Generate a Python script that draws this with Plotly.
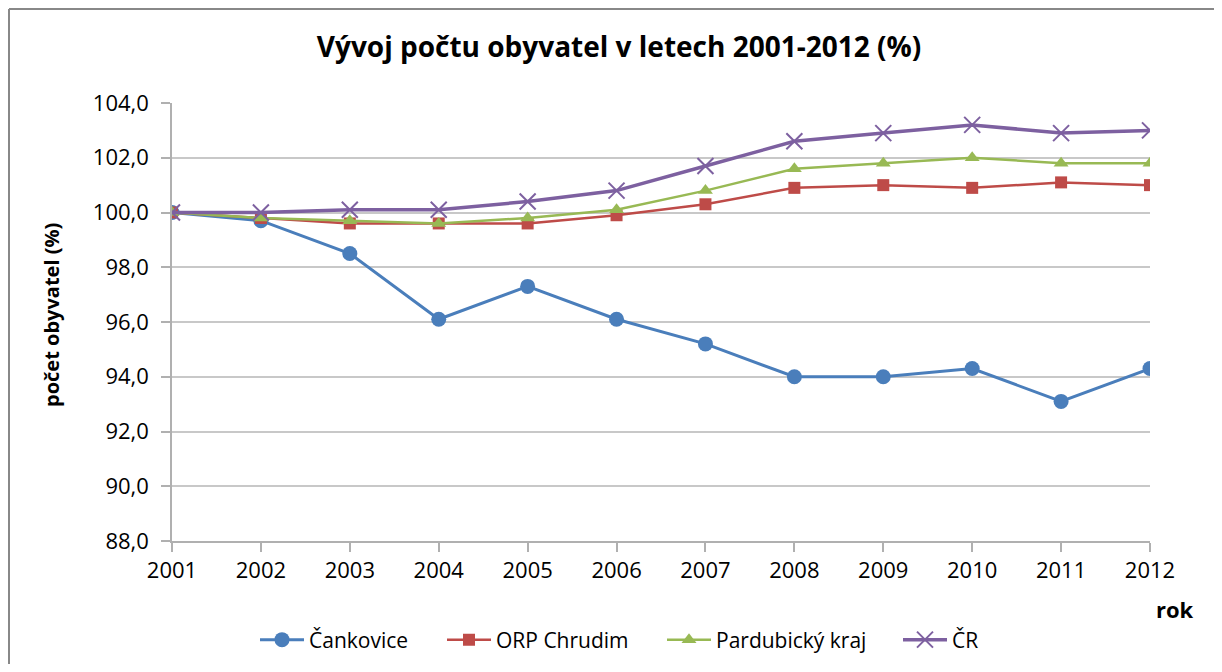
import plotly.graph_objects as go

years = [2001, 2002, 2003, 2004, 2005, 2006, 2007, 2008, 2009, 2010, 2011, 2012]
cankovice = [100.0, 99.7, 98.5, 96.1, 97.3, 96.1, 95.2, 94.0, 94.0, 94.3, 93.1, 94.3]
orp_chrudim = [100.0, 99.8, 99.6, 99.6, 99.6, 99.9, 100.3, 100.9, 101.0, 100.9, 101.1, 101.0]
pardubicky = [100.0, 99.8, 99.7, 99.6, 99.8, 100.1, 100.8, 101.6, 101.8, 102.0, 101.8, 101.8]
cr = [100.0, 100.0, 100.1, 100.1, 100.4, 100.8, 101.7, 102.6, 102.9, 103.2, 102.9, 103.0]

y_ticks = [88, 90, 92, 94, 96, 98, 100, 102, 104]
y_labels = ["88,0", "90,0", "92,0", "94,0", "96,0", "98,0", "100,0", "102,0", "104,0"]

FONT = "Open Sans"
# figure is placed at (8, 8) in the page by the default body margin
W, H = 1206, 656
L, R, T, B = 164, 1142, 95, 533

fig = go.Figure()
fig.add_trace(go.Scatter(x=years, y=cankovice, name="Čankovice", mode="lines+markers",
                         legend="legend",
                         line=dict(color="#4A7EBB", width=3),
                         marker=dict(symbol="circle", size=15, color="#4A7EBB")))
fig.add_trace(go.Scatter(x=years, y=orp_chrudim, name="ORP Chrudim", mode="lines+markers",
                         legend="legend2",
                         line=dict(color="#BE4B48", width=2.5),
                         marker=dict(symbol="square", size=12, color="#BE4B48")))
fig.add_trace(go.Scatter(x=years, y=pardubicky, name="Pardubický kraj", mode="lines+markers",
                         legend="legend3",
                         line=dict(color="#98B954", width=2.5),
                         marker=dict(symbol="triangle-up", size=13, color="#98B954")))
fig.add_trace(go.Scatter(x=years, y=cr, name="ČR", mode="lines+markers",
                         legend="legend4",
                         line=dict(color="#7D60A0", width=3.5),
                         marker=dict(symbol="x-thin-open", size=16, color="#7D60A0",
                                     line=dict(width=2, color="#7D60A0"))))

def px_x(p):
    return (p - L) / (R - L)

def px_y(p):
    return (B - p) / (B - T)

def legend_at(x_fig):
    return dict(orientation="h", x=x_fig / W, xref="container", xanchor="left",
                y=1 - 632 / H, yref="container", yanchor="middle",
                font=dict(family=FONT, size=21, color="#000000"),
                itemwidth=44, bgcolor="rgba(0,0,0,0)")

fig.update_layout(
    width=W, height=H,
    margin=dict(l=L, r=W - R, t=T, b=H - B, autoexpand=False),
    paper_bgcolor="white", plot_bgcolor="white",
    font=dict(family=FONT, size=20, color="#000000"),
    title=dict(text="<b>Vývoj počtu obyvatel v letech 2001-2012 (%)</b>",
               x=611 / W, xref="container", xanchor="center",
               y=1 - 39 / H, yref="container", yanchor="middle",
               font=dict(family=FONT, size=28, color="#000000")),
    showlegend=True,
    legend=legend_at(247),
    legend2=legend_at(434),
    legend3=legend_at(654),
    legend4=legend_at(890),
    xaxis=dict(range=[2001, 2012], tickvals=years, ticktext=[str(y) for y in years],
               showgrid=False, zeroline=False, showline=True, linecolor="#B0B0B0", linewidth=1.5,
               ticks="outside", ticklen=9, tickcolor="#B0B0B0", tickwidth=1.5,
               tickfont=dict(family=FONT, size=22, color="#000000"), fixedrange=True),
    yaxis=dict(range=[88, 104], tickvals=y_ticks, ticktext=y_labels,
               showgrid=True, gridcolor="#C8C8C8", gridwidth=1.5, zeroline=False,
               showline=True, linecolor="#B0B0B0", linewidth=1.5,
               ticks="outside", ticklen=9, tickcolor="#B0B0B0", tickwidth=1.5,
               ticklabelstandoff=8,
               tickfont=dict(family=FONT, size=22, color="#000000")),
    annotations=[
        dict(text="<b>počet obyvatel (%)</b>", x=px_x(43), y=px_y(307), xref="paper", yref="paper",
             showarrow=False, xanchor="center", yanchor="middle", textangle=-90,
             font=dict(family=FONT, size=20, color="#000000")),
        dict(text="<b>rok</b>", x=px_x(1167), y=px_y(601), xref="paper", yref="paper",
             showarrow=False, xanchor="center", yanchor="middle",
             font=dict(family=FONT, size=22, color="#000000")),
    ],
    shapes=[
        dict(type="line", xref="paper", yref="paper", x0=px_x(1), x1=px_x(W + 10),
             y0=px_y(1), y1=px_y(1), line=dict(color="#888888", width=2)),
        dict(type="line", xref="paper", yref="paper", x0=px_x(1), x1=px_x(1),
             y0=px_y(1), y1=px_y(H + 10), line=dict(color="#888888", width=2)),
    ],
)

fig.write_html("out.html")
